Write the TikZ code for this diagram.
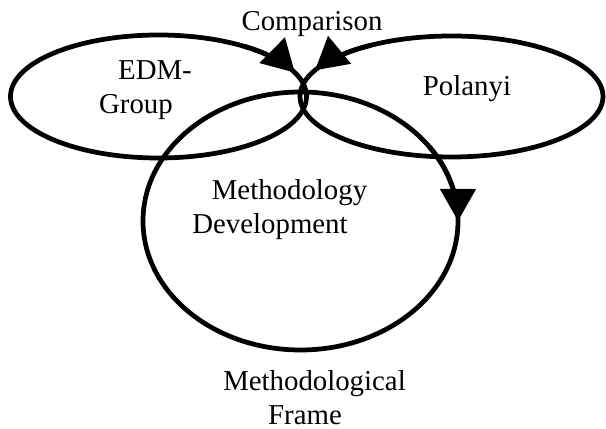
\documentclass[tikz,border=0pt]{standalone}
\usepackage{fontspec}
\setmainfont{Liberation Serif}
\usetikzlibrary{arrows.meta,bending}

\begin{document}
\begin{tikzpicture}[
  ring/.style={line width=0.095cm},
  head/.style={ring,-{Triangle[length=0.64cm,width=0.7cm,flex=0]}},
  lbl/.style={font=\fontsize{16.4}{19.6}\selectfont,align=center,anchor=base,inner sep=0pt}
]
  \useasboundingbox (0,0) rectangle (12.12,8.58);

  % Left ellipse
  \draw[ring] (3.17,6.65) ellipse [x radius=2.96,y radius=1.23];
  \draw[head] (3.17,6.65) ++(55:2.96 and 1.23)
    arc[start angle=55,end angle=22.8,x radius=2.96,y radius=1.23];

  % Right ellipse
  \draw[ring] (9.03,6.65) ellipse [x radius=3.03,y radius=1.21];
  \draw[head] (9.03,6.65) ++(122:3.03 and 1.21)
    arc[start angle=122,end angle=154.3,x radius=3.03,y radius=1.21];

  % Big circle
  \draw[ring] (6.01,4.16) ellipse [x radius=3.15,y radius=2.58];
  \draw[head] (6.01,4.16) ++(35:3.15 and 2.58)
    arc[start angle=35,end angle=0,x radius=3.15,y radius=2.58];

  % Labels (base = last line)
  \node[lbl] (cmp) at (6.24,7.97) {Comparison};
  \node[lbl] (edm) at (2.72,6.30) {\hspace*{0.76cm}EDM-\\Group};
  \node[lbl] (pol) at (9.34,6.66) {Polanyi};
  \node[lbl] (dev) at (5.40,3.90) {\hspace*{0.78cm}Methodology\\Development};
  \node[lbl] (frm) at (6.10,0.08) {\hspace*{0.38cm}Methodological\\Frame};
\end{tikzpicture}
\end{document}
